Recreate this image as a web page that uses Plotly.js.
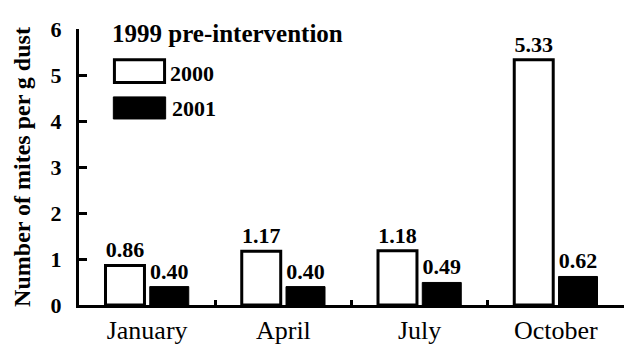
<!DOCTYPE html>
<html>
<head>
<meta charset="utf-8">
<script src="https://cdn.plot.ly/plotly-3.0.1.min.js"></script>
<style>html,body{margin:0;padding:0;background:#fff;}#chart{width:624px;height:348px;}</style>
</head>
<body>
<div id="chart"></div>
<script>
const months = ["January", "April", "July", "October"];
const values2000 = [0.86, 1.17, 1.18, 5.33];
const values2001 = [0.40, 0.40, 0.49, 0.62];
const labels2000 = ["0.86", "1.17", "1.18", "5.33"];
const labels2001 = ["0.40", "0.40", "0.49", "0.62"];
const legendTitle = "1999 pre-intervention";
const seriesNames = ["2000", "2001"];
const yTicks = [0, 1, 2, 3, 4, 5, 6];

const serif = "Liberation Serif";

const traces = [
  {
    type: "bar", x: months, y: values2000, name: seriesNames[0],
    marker: {color: "#ffffff", line: {color: "#000000", width: 3}},
    text: labels2000, textposition: "outside", cliponaxis: false,
    textfont: {family: serif, size: 22, color: "#000", weight: "bold"},
    showlegend: false, hoverinfo: "skip"
  },
  {
    type: "bar", x: months, y: values2001, name: seriesNames[1],
    marker: {color: "#000000", line: {color: "#000000", width: 1}},
    text: labels2001, textposition: "outside", cliponaxis: false,
    textfont: {family: serif, size: 22, color: "#000", weight: "bold"},
    showlegend: false, hoverinfo: "skip"
  }
];

const layout = {
  width: 624, height: 348,
  margin: {l: 79, r: 0, t: 29, b: 43},
  paper_bgcolor: "#fff", plot_bgcolor: "#fff",
  barmode: "group", bargap: 0.35, bargroupgap: 0.12,
  showlegend: false,
  xaxis: {
    type: "category", showline: true, linecolor: "#000", linewidth: 3,
    ticks: "inside", tickson: "boundaries", ticklen: 5, tickwidth: 3, tickcolor: "#000",
    tickfont: {family: serif, size: 26, color: "#000"},
    showgrid: false, zeroline: false, ticklabelstandoff: 0
  },
  yaxis: {
    range: [0, 6], tickvals: yTicks, ticktext: yTicks.map(String),
    showline: true, linecolor: "#000", linewidth: 3,
    ticks: "inside", ticklen: 8, tickwidth: 3, tickcolor: "#000",
    tickfont: {family: serif, size: 22, color: "#000", weight: "bold"},
    showgrid: false, zeroline: false, ticklabelstandoff: 10,
    title: {text: "Number of mites per g dust", font: {family: serif, size: 24, color: "#000", weight: "bold"}, standoff: 14}
  },
  shapes: [
    {type: "rect", xref: "paper", yref: "paper", x0: 0.065, x1: 0.157, y0: 0.806, y1: 0.889,
     line: {color: "#000", width: 3}, fillcolor: "#fff"},
    {type: "rect", xref: "paper", yref: "paper", x0: 0.063, x1: 0.159, y0: 0.674, y1: 0.754,
     line: {color: "#000", width: 1}, fillcolor: "#000"}
  ],
  annotations: [
    {xref: "paper", yref: "paper", x: 0.057, y: 0.984, xanchor: "left", yanchor: "middle",
     text: legendTitle, showarrow: false, font: {family: serif, size: 25, color: "#000", weight: "bold"}},
    {xref: "paper", yref: "paper", x: 0.163, y: 0.838, xanchor: "left", yanchor: "middle",
     text: seriesNames[0], showarrow: false, font: {family: serif, size: 22, color: "#000", weight: "bold"}},
    {xref: "paper", yref: "paper", x: 0.167, y: 0.712, xanchor: "left", yanchor: "middle",
     text: seriesNames[1], showarrow: false, font: {family: serif, size: 22, color: "#000", weight: "bold"}}
  ]
};

Plotly.newPlot("chart", traces, layout, {displayModeBar: false, staticPlot: true});
</script>
</body>
</html>
